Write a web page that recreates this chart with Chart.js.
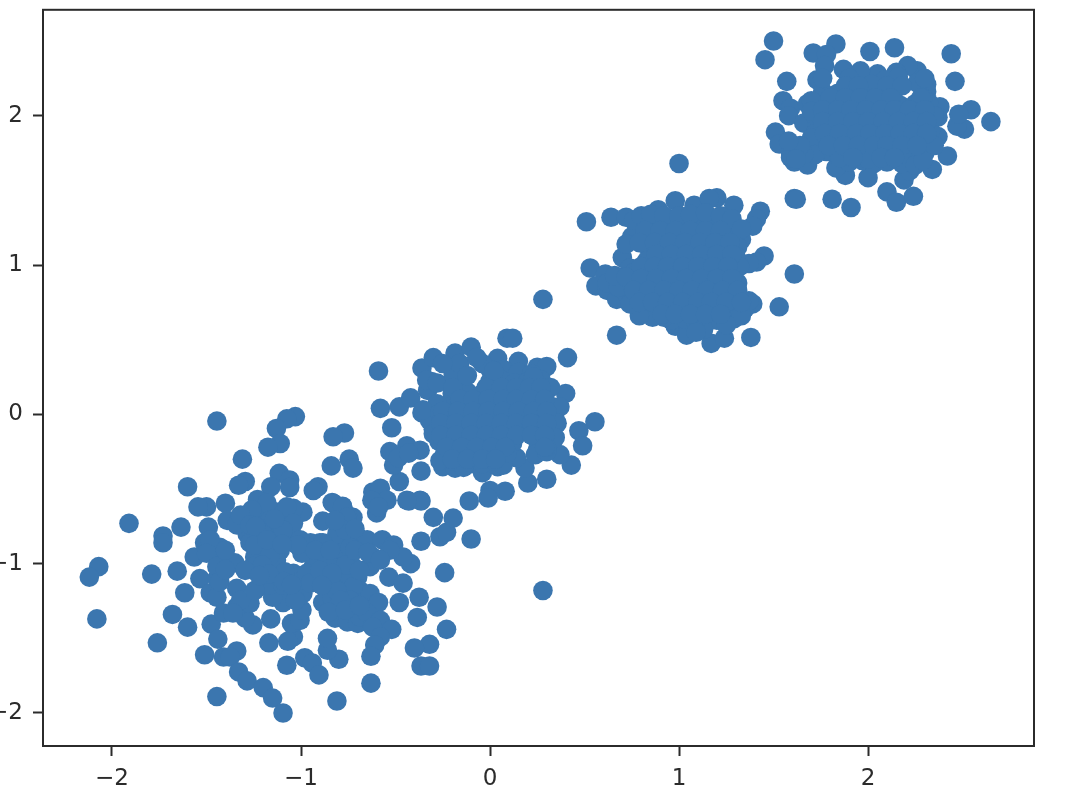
<!DOCTYPE html>
<html>
<head>
<meta charset="utf-8">
<title>Scatter</title>
<script src="https://cdn.jsdelivr.net/npm/chart.js@4/dist/chart.umd.min.js"></script>
<style>
  html, body { margin: 0; padding: 0; background: #fff; overflow: hidden; }
  canvas { display: block; filter: blur(0.5px); }
</style>
</head>
<body>
<canvas id="scatter" width="1074" height="811"></canvas>
<script>
// Points, one list per blob, as [x, y]
const blobLowerLeft = [
  [-1.445,-0.045],[-1.03,-0.015],[-1.075,-0.03],[-1.13,-0.095],[-1.11,-0.195],[-1.175,-0.22],[-0.77,-0.125],[-0.83,-0.15],
  [-1.31,-0.30],[-0.84,-0.345],[-0.745,-0.30],[-0.725,-0.36],[-1.295,-0.45],[-1.33,-0.475],[-1.115,-0.395],[-1.06,-0.44],
  [-1.06,-0.49],[-1.16,-0.485],[-1.60,-0.485],[-0.91,-0.485],[-0.935,-0.51],[-1.40,-0.595],[-1.50,-0.62],[-1.545,-0.62],
  [-1.23,-0.57],[-0.83,-0.595],[-0.78,-0.615],[-0.99,-0.655],[-1.04,-0.63],[-1.39,-0.71],[-0.885,-0.715],[-1.91,-0.73],
  [-1.635,-0.755],[-1.73,-0.815],[-1.73,-0.86],[-1.49,-0.755],[-1.565,-0.955],[-2.07,-1.02],[-2.12,-1.09],[-1.79,-1.07],
  [-1.655,-1.05],[-1.615,-1.195],[-1.535,-1.10],[-1.48,-1.195],[-1.445,-1.225],[-2.08,-1.37],[-1.68,-1.34],[-1.60,-1.425],
  [-1.76,-1.53],[-1.475,-1.405],[-1.44,-1.505],[-1.51,-1.61],[-1.41,-1.625],[-1.34,-1.585],[-1.375,-1.625],[-1.33,-1.725],
  [-1.285,-1.785],[-1.20,-1.83],[-1.15,-1.90],[-1.095,-2.0],[-1.445,-1.89],[-0.81,-1.92],[-1.17,-1.53],[-1.16,-1.37],
  [-1.075,-1.68],[-0.98,-1.63],[-0.94,-1.665],[-0.905,-1.745],[-0.80,-1.64],[-0.86,-1.58],[-0.86,-1.50],[-1.04,-1.49],
  [-1.07,-1.52],[-1.05,-1.40],[-1.005,-1.38],[-0.995,-1.31],[-1.255,-1.41],[-1.295,-1.365],[-1.41,-1.33],[-1.34,-1.29],
  [-1.27,-1.265],[-1.34,-1.165],[-1.445,-1.10],[-1.41,-0.955],[-1.35,-0.995],[-1.51,-0.86],[-1.43,-0.89],[-0.83,-1.29],
  [-0.885,-1.26],[-0.82,-1.365],[-0.755,-1.39],[-0.70,-1.40],[-1.285,-0.69],[-1.22,-0.66],[-1.13,-0.655],[-1.075,-0.73],
  [-1.285,-0.80],[-1.22,-0.73],[-1.15,-0.755],[-1.06,-0.82],[-1.20,-0.89],[-1.245,-0.955],[-1.18,-1.02],[-1.11,-0.91],
  [-1.13,-0.975],[-1.255,-1.02],[-1.20,-1.12],[-1.13,-1.09],[-1.04,-1.09],[-1.11,-1.18],[-1.06,-1.20],[-1.095,-1.26],
  [-0.99,-1.20],[-0.99,-1.11],[-0.935,-1.02],[-0.97,-0.89],[-0.90,-0.86],[-0.995,-0.93],[-1.13,-0.86],[-0.835,-0.86],
  [-0.78,-0.84],[-0.78,-0.755],[-0.725,-0.69],[-0.755,-0.675],[-0.835,-0.59],[-0.78,-0.62],[-0.76,-0.69],[-0.81,-0.80],
  [-0.70,-0.82],[-0.65,-0.84],[-0.57,-0.84],[-0.51,-0.875],[-0.42,-1.0],[-0.46,-0.955],[-0.53,-0.91],[-0.62,-0.955],
  [-0.635,-1.02],[-0.95,-0.86],[-0.885,-0.86],[-0.79,-0.955],[-0.74,-0.89],[-0.725,-1.02],[-0.83,-1.02],[-0.70,-1.09],
  [-0.79,-1.145],[-0.69,-1.18],[-0.635,-1.20],[-0.59,-1.26],[-0.725,-1.245],[-0.835,-1.225],[-0.78,-1.225],[-0.69,-1.355],
  [-0.65,-1.33],[-0.58,-1.38],[-0.52,-1.44],[-0.62,-1.425],[-0.58,-1.49],[-0.61,-1.545],[-0.63,-1.62],[-0.63,-1.80],
  [-0.535,-1.09],[-0.46,-1.13],[-0.48,-1.26],[-0.375,-1.225],[-0.28,-1.29],[-0.385,-1.36],[-0.23,-1.44],[-0.32,-1.54],
  [-0.40,-1.565],[-0.365,-1.685],[-0.32,-1.685],[-0.24,-1.06],[0.28,-1.18],[-0.10,-0.835],[-0.365,-0.85],[-0.265,-0.82],
  [-0.23,-0.79],[-1.48,-0.84],[-1.50,-0.93],[-1.445,-1.02],[-1.43,-1.12],[-1.32,-1.245],[-1.36,-1.33],[-1.22,-1.155],
  [-1.15,-1.225],[-1.23,-1.06],[-1.34,-0.74],[-1.18,-0.595],[-1.26,-0.64],[-1.075,-0.62],[-1.04,-0.73],[-1.27,-0.86],
  [-1.15,-0.82],[-1.005,-0.84],[-1.04,-1.065],[-0.97,-1.065],[-0.83,-1.11],[-0.755,-1.065],[-0.725,-1.155],[-0.81,-1.18],
  [-0.74,-1.245],[-0.86,-0.975],
  [-1.32,-0.675],[-1.165,-0.71],[-1.27,-0.74],[-1.095,-0.775],[-1.20,-0.805],[-1.245,-0.875],[-1.165,-0.945],[-1.205,-1.01],
  [-1.295,-1.045],[-1.085,-1.055],[-1.165,-1.145],[-1.245,-1.18],[-1.095,-1.145],[-1.03,-1.245],[-0.95,-1.13],[-0.90,-1.045],
  [-1.02,-0.875],[-0.925,-0.91],[-0.845,-0.91],[-0.765,-1.01],[-0.835,-1.065],[-0.89,-1.145],[-0.79,-1.245],[-0.855,-1.325],
  [-0.765,-1.31],[-0.69,-1.28],[-0.69,-1.045],[-0.765,-0.775],[-0.82,-0.71],[-0.715,-0.765],[-0.715,-0.91],[-0.645,-0.925],
  [-0.58,-0.975],[-1.40,-1.04],[-1.40,-0.91],
  [-1.24,-0.75],[-1.18,-0.84],[-1.10,-0.87],[-1.17,-1.07],[-1.09,-1.12],[-1.22,-1.08],[-1.14,-0.70],[-1.05,-1.14]
];

const blobCentre = [
  [0.28,0.77],[-0.59,0.29],[-0.58,0.04],[-0.48,0.05],[-0.42,0.11],[-0.52,-0.09],[-0.36,0.31],[-0.30,0.38],[-0.185,0.41],
  [-0.10,0.45],[0.09,0.51],[0.12,0.51],[0.04,0.375],[0.15,0.355],[0.25,0.315],[0.30,0.32],[0.41,0.38],[0.40,0.14],
  [0.355,0.04],[0.555,-0.05],[0.47,-0.11],[0.49,-0.21],[0.43,-0.34],[0.37,-0.27],[0.30,-0.435],[0.20,-0.46],[0.185,-0.36],
  [0.14,-0.29],[0.25,-0.24],[0.08,-0.515],[0.0,-0.51],[-0.01,-0.56],[-0.11,-0.58],[-0.195,-0.695],[-0.30,-0.69],
  [-0.365,-0.58],[-0.43,-0.58],[-0.48,-0.45],[-0.365,-0.38],[-0.51,-0.34],[-0.53,-0.25],[-0.44,-0.21],[-0.485,-0.29],
  [-0.37,-0.24],[-0.36,0.01],[-0.43,-0.26],[-0.62,-0.52],[-0.58,-0.495],[-0.545,-0.575],[-0.625,-0.575],[-0.60,-0.66],
  [-0.59,-0.62],[-0.37,-0.575],[-0.44,-0.575],
  [-0.19,0.29],[0.0,0.30],[0.07,0.30],[0.15,0.28],[0.22,0.27],
  [-0.31,0.22],[-0.16,0.22],[0.0,0.22],[0.06,0.23],[0.13,0.21],[0.20,0.22],[0.27,0.23],
  [-0.33,0.16],[-0.20,0.14],[-0.12,0.15],[-0.05,0.13],[0.03,0.14],[0.10,0.15],[0.17,0.13],[0.25,0.14],[0.30,0.17],
  [-0.20,0.06],[-0.13,0.05],[-0.05,0.07],[0.03,0.06],[0.10,0.05],[0.18,0.07],[0.26,0.06],[0.33,0.05],
  [-0.29,-0.02],[-0.21,-0.01],[-0.13,-0.03],[-0.05,-0.02],[0.03,-0.01],[0.11,-0.03],[0.19,-0.02],[0.27,-0.01],[0.34,-0.03],
  [-0.30,-0.10],[-0.22,-0.09],[-0.14,-0.11],[-0.06,-0.10],[0.02,-0.09],[0.10,-0.11],[0.18,-0.10],[0.26,-0.09],[0.33,-0.11],
  [-0.27,-0.18],[-0.19,-0.17],[-0.11,-0.19],[-0.03,-0.18],[0.05,-0.17],[0.12,-0.19],[0.25,-0.17],[0.31,-0.17],
  [-0.24,-0.26],[-0.16,-0.25],[-0.08,-0.27],[0.0,-0.26],[0.07,-0.25],[0.24,-0.27],[0.30,-0.25],
  [-0.25,-0.35],[-0.185,-0.36],[-0.10,-0.33],[-0.04,-0.39],[0.04,-0.35],[0.07,-0.34],
  [-0.335,0.23],[-0.28,0.21],[-0.195,0.27],[-0.16,0.34],[-0.25,0.34],[-0.04,0.34],[-0.07,0.38],[0.02,0.29],[-0.195,0.18],
  [-0.28,0.07],[-0.32,-0.04],[-0.30,-0.13],[-0.355,0.03],[-0.265,0.01],[-0.16,0.07],[0.23,0.25],[0.32,0.18],[0.37,0.05],
  [0.355,-0.06],[0.345,-0.155],[0.30,-0.22],[-0.265,-0.31],[-0.195,-0.31],[-0.14,-0.355],[-0.04,-0.33],[0.02,-0.31],[0.09,-0.26],
  [-0.12,0.26],[-0.02,0.18],[0.06,0.18],[0.14,0.18],[0.21,0.18],[0.27,0.18],
  [-0.16,0.10],[-0.09,0.10],[-0.01,0.10],[0.07,0.10],[0.14,0.10],[0.22,0.10],[0.29,0.10],
  [-0.25,0.02],[-0.17,0.02],[-0.09,0.02],[-0.01,0.02],[0.07,0.02],[0.15,0.02],[0.23,0.02],[0.30,0.02],
  [-0.26,-0.06],[-0.18,-0.06],[-0.10,-0.06],[-0.02,-0.06],[0.06,-0.06],[0.14,-0.06],[0.22,-0.06],[0.30,-0.06],
  [-0.26,-0.14],[-0.18,-0.14],[-0.10,-0.14],[-0.02,-0.14],[0.06,-0.14],[0.14,-0.14],[0.22,-0.14],[0.29,-0.14],
  [-0.23,-0.22],[-0.15,-0.22],[-0.07,-0.22],[0.01,-0.22],[0.08,-0.22],[0.29,-0.22],
  [-0.20,-0.30],[-0.12,-0.30],[-0.04,-0.30],[0.03,-0.30]
];

const blobUpperMiddle = [
  [1.00,1.68],[0.51,1.29],[0.64,1.32],[0.72,1.32],[0.98,1.43],[0.89,1.37],[1.08,1.40],[1.20,1.45],[1.16,1.445],[1.29,1.40],
  [1.43,1.36],[1.41,1.31],[1.39,1.26],[1.33,1.17],[1.45,1.06],[1.41,1.02],[1.37,1.01],[1.61,0.94],[1.31,0.88],[0.53,0.98],
  [0.61,0.94],[0.56,0.86],[0.62,0.83],[0.67,0.77],[0.72,0.81],[0.70,1.05],[0.81,0.71],[0.83,0.70],[0.67,0.53],[0.98,0.59],
  [1.04,0.53],[1.17,0.475],[1.24,0.51],[1.38,0.515],[1.53,0.72],[1.39,0.74],[1.35,0.71],[1.29,0.64],[1.15,0.63],[1.23,0.68],
  [0.78,1.27],[0.86,1.26],[0.94,1.28],[1.02,1.27],[1.10,1.26],[1.18,1.28],[1.25,1.27],
  [0.75,1.19],[0.83,1.20],[0.91,1.18],[0.99,1.19],[1.07,1.20],[1.14,1.18],[1.22,1.19],[1.29,1.20],
  [0.72,1.14],[0.84,1.11],[0.92,1.12],[1.00,1.10],[1.08,1.11],[1.16,1.12],[1.24,1.10],
  [0.83,1.03],[0.90,1.02],[0.98,1.04],[1.06,1.03],[1.14,1.02],[1.22,1.04],[1.27,1.03],[0.74,0.98],
  [0.76,0.95],[0.84,0.94],[0.92,0.96],[1.00,0.95],[1.08,0.94],[1.16,0.96],[1.24,0.95],[1.29,0.94],
  [0.72,0.87],[0.80,0.88],[0.88,0.86],[0.96,0.87],[1.03,0.88],[1.11,0.86],[1.19,0.87],[1.27,0.88],
  [0.75,0.79],[0.82,0.78],[0.90,0.80],[0.98,0.79],[1.06,0.78],[1.13,0.80],[1.21,0.79],[1.29,0.78],
  [0.88,0.71],[0.94,0.70],[1.02,0.72],[1.10,0.71],[1.18,0.70],[1.26,0.72],
  [0.96,0.63],[1.03,0.64],[1.09,0.62],[1.20,0.63],
  [0.76,1.30],[0.80,1.33],[0.85,1.34],[0.92,1.33],[1.00,1.33],[1.06,1.34],[1.14,1.35],[1.22,1.33],[1.28,1.31],[1.33,1.24],
  [1.31,1.12],[1.30,1.06],[1.32,0.99],[1.27,0.83],[1.32,0.78],[1.37,0.76],[1.33,0.66],[1.25,0.60],[1.13,0.57],[1.09,0.55],
  [0.92,0.65],[0.86,0.65],[0.79,0.66],[0.62,0.88],[0.68,0.85],[0.66,0.93],[0.72,0.92],[0.74,0.74],
  [0.82,1.23],[0.90,1.23],[0.98,1.23],[1.06,1.23],[1.14,1.23],[1.22,1.23],
  [0.79,1.15],[0.87,1.15],[0.95,1.15],[1.03,1.15],[1.11,1.15],[1.19,1.15],[1.27,1.15],
  [0.88,1.07],[0.96,1.07],[1.04,1.07],[1.12,1.07],[1.20,1.07],[1.28,1.07],
  [0.80,0.99],[0.87,0.99],[0.94,0.99],[1.02,0.99],[1.10,0.99],[1.18,0.99],[1.26,0.99],
  [0.80,0.91],[0.88,0.91],[0.96,0.91],[1.04,0.91],[1.12,0.91],[1.20,0.91],[1.28,0.91],
  [0.76,0.83],[0.84,0.83],[0.92,0.83],[1.00,0.83],[1.07,0.83],[1.15,0.83],[1.23,0.83],[1.31,0.83],
  [0.79,0.75],[0.86,0.75],[0.94,0.75],[1.02,0.75],[1.10,0.75],[1.17,0.75],[1.25,0.75],[1.33,0.75],
  [0.91,0.67],[0.98,0.67],[1.06,0.67],[1.14,0.67],[1.22,0.67]
];

const blobUpperRight = [
  [1.50,2.50],[1.455,2.375],[1.71,2.42],[1.83,2.48],[1.78,2.41],[2.01,2.43],[2.14,2.455],[2.44,2.415],[2.46,2.23],[1.57,2.23],
  [1.55,2.10],[1.59,2.05],[1.58,2.00],[1.51,1.89],[1.53,1.81],[1.59,1.75],[1.61,1.69],[1.68,1.67],[1.61,1.445],[1.62,1.44],
  [1.81,1.44],[1.91,1.385],[2.10,1.49],[2.15,1.42],[2.24,1.46],[2.19,1.57],[2.22,1.63],[2.34,1.64],[2.42,1.73],[2.00,1.585],
  [1.88,1.60],[1.83,1.65],[2.65,1.96],[2.545,2.04],[2.51,1.91],[2.47,1.93],[2.48,2.01],[2.38,2.06],[2.37,1.99],[2.31,1.85],
  [2.30,1.75],[2.31,2.21],[2.26,2.30],[2.21,2.335],[2.15,2.29],[2.05,2.28],[1.96,2.30],[1.87,2.31],[1.77,2.335],[1.73,2.24],
  [1.68,2.08],[1.66,1.95],[1.73,1.80],[1.59,1.72],
  [1.90,2.25],[2.09,2.24],[2.16,2.26],
  [1.76,2.16],[1.84,2.15],[1.92,2.17],[2.00,2.16],[2.07,2.15],[2.14,2.17],[2.31,2.16],
  [1.78,2.08],[1.86,2.09],[1.94,2.07],[2.01,2.08],[2.09,2.09],[2.17,2.07],[2.25,2.08],[2.32,2.09],
  [1.72,2.00],[1.80,2.01],[1.87,1.99],[1.95,2.00],[2.03,2.01],[2.10,1.99],[2.18,2.00],[2.26,2.01],[2.33,1.99],
  [1.73,1.92],[1.81,1.93],[1.90,1.91],[1.97,1.92],[2.05,1.93],[2.13,1.91],[2.20,1.92],[2.28,1.93],
  [1.76,1.84],[1.83,1.85],[1.91,1.83],[1.99,1.84],[2.06,1.85],[2.14,1.83],[2.22,1.84],[2.29,1.85],
  [1.81,1.76],[1.88,1.77],[1.96,1.75],[2.04,1.76],[2.11,1.77],[2.19,1.75],[2.26,1.76],
  [1.90,1.69],[1.97,1.70],[2.03,1.68],[2.10,1.69],[2.18,1.68],
  [1.76,2.25],[2.02,2.21],[2.26,2.22],[2.30,2.25],[1.70,2.10],[1.70,2.03],[1.72,1.88],[1.70,1.85],[1.78,1.76],[1.72,1.74],
  [1.66,1.74],[1.64,1.80],[1.58,1.83],[1.62,1.71],[1.85,1.72],[2.00,1.71],[2.22,1.72],[2.27,1.70],[2.25,1.67],[2.37,1.86],
  [2.33,1.90],[2.35,2.00],[2.29,2.12],[2.30,1.95],[2.35,1.80],[2.29,1.70],
  [1.88,2.20],[1.95,2.20],[2.10,2.20],[2.18,2.20],
  [1.80,2.12],[1.88,2.12],[1.96,2.12],[2.04,2.12],[2.12,2.12],[2.28,2.12],
  [1.76,2.04],[1.84,2.04],[1.91,2.04],[1.99,2.04],[2.07,2.04],[2.14,2.04],[2.22,2.04],[2.30,2.04],
  [1.76,1.96],[1.84,1.96],[1.92,1.96],[2.00,1.96],[2.08,1.96],[2.16,1.96],[2.24,1.96],[2.31,1.96],
  [1.77,1.88],[1.85,1.88],[1.94,1.88],[2.01,1.88],[2.09,1.88],[2.17,1.88],[2.24,1.88],[2.31,1.88],
  [1.79,1.80],[1.87,1.80],[1.95,1.80],[2.03,1.80],[2.10,1.80],[2.18,1.80],[2.26,1.80],
  [1.92,1.72],[2.07,1.72],[2.14,1.72]
];

const xTicks = [-2, -1, 0, 1, 2];
const yTicks = [-2, -1, 0, 1, 2];
const xRange = [-2.365, 2.878];
const yRange = [-2.221, 2.709];

const dotColor = '#3b76af';
const inkColor = '#2b2b2b';
const tickFont = { family: '"DejaVu Sans"', size: 23 };

function tickText(v) {
  return v < 0 ? '\u2212' + Math.abs(v) : String(v);
}

function axisOptions(range, ticks, pad) {
  return {
    type: 'linear',
    min: range[0],
    max: range[1],
    afterBuildTicks: axis => { axis.ticks = ticks.map(v => ({ value: v })); },
    grid: { drawOnChartArea: false, drawTicks: true, tickLength: 10, tickWidth: 2, tickColor: inkColor },
    border: { display: true, color: inkColor, width: 2 },
    ticks: { color: inkColor, font: tickFont, padding: pad, autoSkip: false, maxRotation: 0, callback: tickText }
  };
}

// top and right spines, chart.js only draws the two axis borders
const frame = {
  id: 'frame',
  afterDraw(chart) {
    const { ctx, chartArea: a } = chart;
    ctx.save();
    ctx.strokeStyle = inkColor;
    ctx.lineWidth = 2;
    ctx.strokeRect(a.left, a.top, a.right - a.left, a.bottom - a.top);
    ctx.restore();
  }
};

const xAxis = axisOptions(xRange, xTicks, 9);
xAxis.afterFit = axis => { axis.height = 65; axis.paddingLeft = 0; axis.paddingRight = 0; };
const yAxis = axisOptions(yRange, yTicks, 10);
yAxis.afterFit = axis => { axis.width = 43; axis.paddingTop = 0; axis.paddingBottom = 0; };

const allPoints = [...blobLowerLeft, ...blobCentre, ...blobUpperMiddle, ...blobUpperRight];

new Chart(document.getElementById('scatter').getContext('2d'), {
  type: 'scatter',
  data: {
    datasets: [{
      data: allPoints.map(p => ({ x: p[0], y: p[1] })),
      backgroundColor: dotColor,
      borderColor: dotColor,
      borderWidth: 0,
      pointRadius: 9.8,
      pointHoverRadius: 9.8
    }]
  },
  options: {
    responsive: false,
    animation: false,
    devicePixelRatio: 1,
    layout: { padding: { top: 9, right: 40, left: 0, bottom: 0 } },
    plugins: { legend: { display: false }, title: { display: false }, tooltip: { enabled: false } },
    scales: { x: xAxis, y: yAxis }
  },
  plugins: [frame]
});
</script>
</body>
</html>
